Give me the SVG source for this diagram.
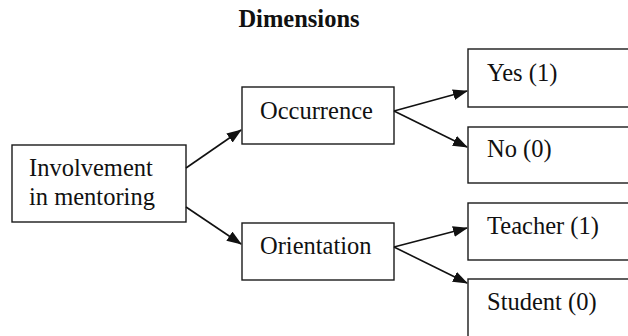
<svg xmlns="http://www.w3.org/2000/svg" width="628" height="336" viewBox="0 0 628 336">
  <style>
    .box { fill: #ffffff; stroke: #1a1a1a; stroke-width: 1.4; }
    .label { font-family: "Liberation Serif", "Times New Roman", serif; font-size: 24.5px; fill: #111111; }
    .title { font-family: "Liberation Serif", "Times New Roman", serif; font-size: 24.5px; font-weight: bold; fill: #111111; }
    .edge { stroke: #111111; stroke-width: 1.6; fill: none; marker-end: url(#arrow); }
  </style>
  <defs>
    <marker id="arrow" markerUnits="userSpaceOnUse" markerWidth="15" markerHeight="11" refX="14" refY="5.5" orient="auto">
      <path d="M0,0 L15,5.5 L0,11 Z" fill="#111111"/>
    </marker>
  </defs>
  <rect width="628" height="336" fill="#ffffff"/>

  <text class="title" x="299" y="27" text-anchor="middle">Dimensions</text>

  <g id="involvement">
    <rect class="box" x="12" y="145" width="174" height="77"/>
    <text class="label" x="29" y="176">Involvement</text>
    <text class="label" x="29" y="205">in mentoring</text>
  </g>

  <g id="occurrence">
    <rect class="box" x="242" y="87" width="152" height="57"/>
    <text class="label" x="260" y="119">Occurrence</text>
  </g>

  <g id="orientation">
    <rect class="box" x="242" y="223" width="152" height="57"/>
    <text class="label" x="260" y="254">Orientation</text>
  </g>

  <g id="yes">
    <rect class="box" x="468" y="49" width="180" height="58"/>
    <text class="label" x="487" y="81">Yes (1)</text>
  </g>

  <g id="no">
    <rect class="box" x="468" y="127" width="180" height="56"/>
    <text class="label" x="487" y="157">No (0)</text>
  </g>

  <g id="teacher">
    <rect class="box" x="468" y="203" width="180" height="57"/>
    <text class="label" x="487" y="234">Teacher (1)</text>
  </g>

  <g id="student">
    <rect class="box" x="468" y="279" width="180" height="70"/>
    <text class="label" x="487" y="310">Student (0)</text>
  </g>

  <g id="connectors">
    <line class="edge" x1="186" y1="168" x2="241" y2="130"/>
    <line class="edge" x1="186" y1="207" x2="241" y2="244"/>
    <line class="edge" x1="394" y1="111" x2="467" y2="91"/>
    <line class="edge" x1="394" y1="111" x2="467" y2="147"/>
    <line class="edge" x1="394" y1="247" x2="467" y2="228"/>
    <line class="edge" x1="394" y1="247" x2="467" y2="283"/>
  </g>
</svg>
